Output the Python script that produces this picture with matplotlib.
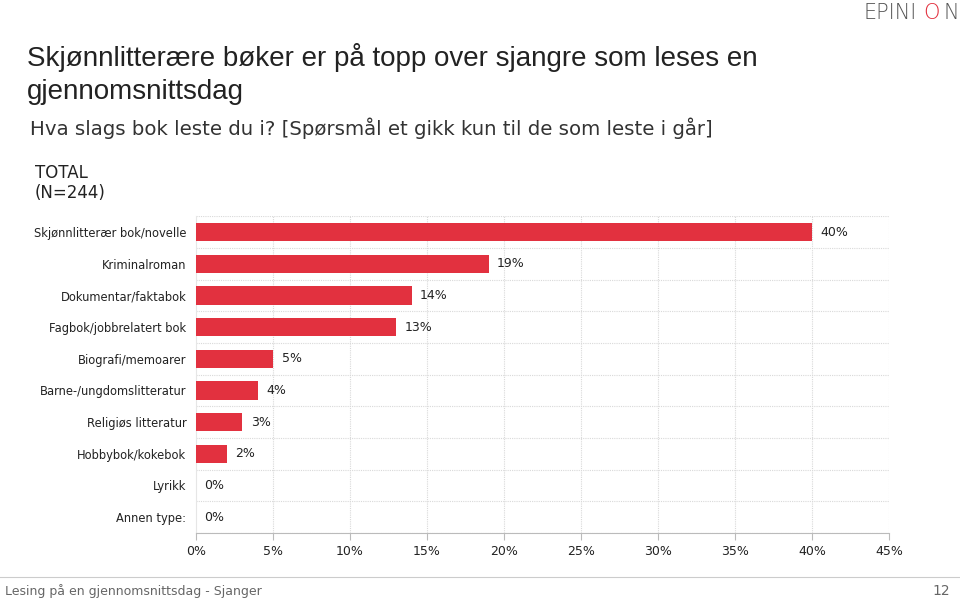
import matplotlib.pyplot as plt
import numpy as np

# data
categories = ["Skjønnlitterær bok/novelle", "Kriminalroman", "Dokumentar/faktabok",
              "Fagbok/jobbrelatert bok", "Biografi/memoarer", "Barne-/ungdomslitteratur",
              "Religiøs litteratur", "Hobbybok/kokebok", "Lyrikk", "Annen type:"]
values = [40, 19, 14, 13, 5, 4, 3, 2, 0, 0]
xticks = [0, 5, 10, 15, 20, 25, 30, 35, 40, 45]

BAR = '#E2313F'
GRID = '#D9D9D9'


def main():
    fig = plt.figure(figsize=(9.6, 6), dpi=100)
    ax = fig.add_axes([0.2042, 0.1117, 0.722, 0.528])

    y = np.arange(len(categories))
    ax.barh(y, values, height=0.58, color=BAR, zorder=3)
    for yi, v in zip(y, values):
        ax.text(v + 0.55, yi, f"{v}%", va='center', ha='left',
                fontsize=9, color='#222222', family='DejaVu Sans')

    ax.set_ylim(len(categories) - 0.5, -0.5)
    ax.set_xlim(0, 45)
    ax.set_yticks(y)
    ax.set_yticklabels(categories, fontsize=8.3, color='#222222', family='DejaVu Sans')
    ax.set_xticks(xticks)
    ax.set_xticklabels([f"{t}%" for t in xticks], fontsize=9, color='#222222', family='DejaVu Sans')
    ax.tick_params(axis='y', length=0, pad=7)
    ax.tick_params(axis='x', length=5, color='#BBBBBB', pad=4)

    # dotted grid: vertical at ticks, horizontal between rows
    for t in xticks[1:]:
        ax.axvline(t, color=GRID, lw=0.8, ls=(0, (1, 1)), zorder=1)
    for b in np.arange(-0.5, len(categories) - 0.5 + 0.01, 1.0):
        ax.axhline(b, color=GRID, lw=0.8, ls=(0, (1, 1)), zorder=1)

    for s in ['top', 'right']:
        ax.spines[s].set_visible(False)
    ax.spines['left'].set_color('#E6E6E6')
    ax.spines['bottom'].set_color('#BBBBBB')

    # titles
    fig.text(0.028, 0.904, "Skjønnlitterære bøker er på topp over sjangre som leses en",
             fontsize=20, color='#222222', family='Liberation Sans', va='center')
    fig.text(0.028, 0.846, "gjennomsnittsdag", fontsize=20, color='#222222',
             family='Liberation Sans', va='center')
    fig.text(0.031, 0.787, "Hva slags bok leste du i? [Spørsmål et gikk kun til de som leste i går]",
             fontsize=14.2, color='#333333', family='DejaVu Sans', va='center')
    fig.text(0.036, 0.712, "TOTAL", fontsize=12, color='#222222', family='DejaVu Sans', va='center')
    fig.text(0.036, 0.678, "(N=244)", fontsize=12, color='#222222', family='DejaVu Sans', va='center')

    # logo
    fig.text(0.9, 0.978, "EPINI", fontsize=15, color='#555555', ha='left', va='center',
             family='DejaVu Sans', fontweight='light')
    fig.text(0.962, 0.978, "O", fontsize=15, color='#E2313F', ha='left', va='center',
             family='DejaVu Sans', fontweight='light')
    fig.text(0.999, 0.978, "N", fontsize=15, color='#555555', ha='right', va='center',
             family='DejaVu Sans', fontweight='light')

    # footer
    fig.add_artist(plt.Line2D([0, 1], [0.038, 0.038], color='#CCCCCC', lw=0.8))
    fig.text(0.005, 0.015, "Lesing på en gjennomsnittsdag - Sjanger", fontsize=9,
             color='#666666', family='DejaVu Sans', va='center')
    fig.text(0.99, 0.015, "12", fontsize=10, color='#666666', family='DejaVu Sans',
             ha='right', va='center')

    fig.savefig("out.png", dpi=100)


if __name__ == "__main__":
    main()
